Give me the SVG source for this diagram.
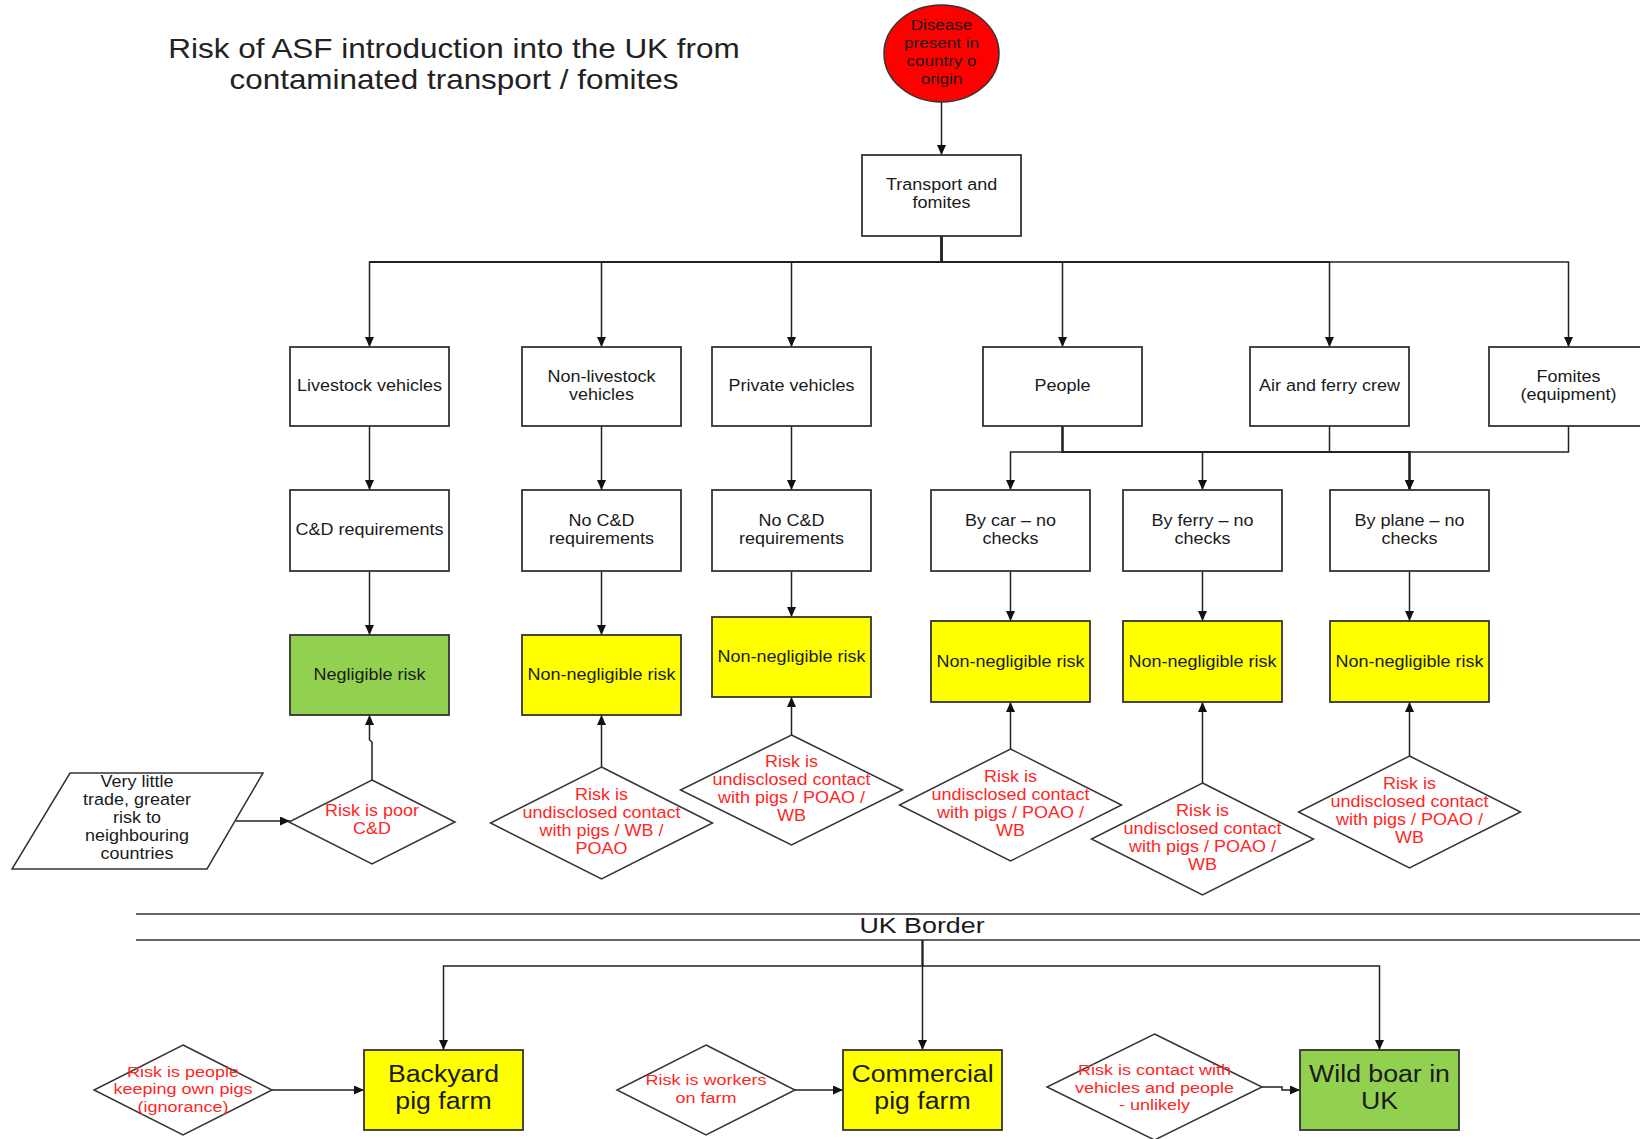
<svg xmlns="http://www.w3.org/2000/svg" width="1640" height="1139" viewBox="0 0 1640 1139">
<defs>
<marker id="ah" markerUnits="userSpaceOnUse" markerWidth="11" markerHeight="10" refX="10" refY="4.5" orient="auto">
<path d="M0,0 L10,4.5 L0,9 z" fill="#111"/>
</marker>
<style>
.box{fill:#fff;stroke:#333;stroke-width:1.8}
.yel{fill:#ffff00;stroke:#333;stroke-width:1.8}
.grn{fill:#92d050;stroke:#333;stroke-width:1.8}
.dia{fill:#fff;stroke:#333;stroke-width:1.5}
.t{font-family:"Liberation Sans",Arial,sans-serif;font-size:16.5px;fill:#1a1a1a;text-anchor:middle}
.r{fill:#ff2626}
.rb{font-size:15px}
.big{font-size:23px}
.title{font-family:"Liberation Sans",Arial,sans-serif;font-size:27px;fill:#222;text-anchor:middle}
.c{fill:none;stroke:#222;stroke-width:1.5;marker-end:url(#ah)}
.thk{stroke-width:2.2}
.ln{fill:none;stroke:#333;stroke-width:1.6}
.bus{fill:none;stroke:#222;stroke-width:2.1}
</style>
</defs>
<rect width="1640" height="1139" fill="#fff"/>

<g id="title">
<text class="title" transform="translate(454,0) scale(1.165,1)"><tspan x="0" y="58">Risk of ASF introduction into the UK from</tspan><tspan x="0" y="89">contaminated transport / fomites</tspan></text>
</g>

<g id="connectors">
<path class="c" d="M941.5,102 V155"/>
<path class="bus" d="M941.5,236 V262 M369.5,262 H1329.5"/>
<path class="c" d="M941.5,236 V262 H369.5 V347"/>
<path class="c" d="M941.5,236 V262 H601.5 V347"/>
<path class="c" d="M941.5,236 V262 H791.5 V347"/>
<path class="c" d="M941.5,236 V262 H1062.5 V347"/>
<path class="c" d="M941.5,236 V262 H1329.5 V347"/>
<path class="c" d="M941.5,236 V262 H1568.5 V347"/>
<path class="c" d="M369.5,426 V490"/>
<path class="c" d="M601.5,426 V490"/>
<path class="c" d="M791.5,426 V490"/>
<path class="c" d="M1062.5,426 V452 H1010.5 V490"/>
<path class="c" d="M1062.5,426 V452 H1202.5 V490"/>
<path class="c" d="M1568.5,426 V452 H1409.5 V490"/>
<path class="c" d="M1329.5,426 V452 H1409.5 V490"/>
<path class="c thk" d="M1062.5,426 V452 H1409.5 V490"/>
<path class="c" d="M369.5,571 V635"/>
<path class="c" d="M601.5,571 V635"/>
<path class="c" d="M791.5,571 V617"/>
<path class="c" d="M1010.5,571 V621"/>
<path class="c" d="M1202.5,571 V621"/>
<path class="c" d="M1409.5,571 V621"/>
<path class="c" d="M372,780 V742 L369.5,740 V715"/>
<path class="c" d="M601.5,767 V715"/>
<path class="c" d="M791.5,735 V697"/>
<path class="c" d="M1010.5,749 V702"/>
<path class="c" d="M1202.5,783 V702"/>
<path class="c" d="M1409.5,756 V702"/>
<path class="c" d="M236,821 H290"/>
<path class="bus" d="M922.5,940 V966"/>
<path class="c" d="M922.5,940 V1050"/>
<path class="c" d="M922.5,966 H443.5 V1050"/>
<path class="c" d="M922.5,966 H1379.5 V1050"/>
<path class="c" d="M272,1090 H364"/>
<path class="c" d="M795,1090 H843"/>
<path class="c" d="M1262,1087 H1282 V1090 H1300"/>
</g>

<g id="disease">
<ellipse cx="941.5" cy="53.5" rx="57.5" ry="48.5" fill="#ff0000" stroke="#333" stroke-width="1.5"/>
<text class="t" style="font-size:15.5px" transform="translate(941.5,0) scale(1.1,1)"><tspan x="0" y="30">Disease</tspan><tspan x="0" y="48">present in</tspan><tspan x="0" y="66">country o</tspan><tspan x="0" y="84">origin</tspan></text>
</g>

<g id="transport">
<rect class="box" x="862" y="155" width="159" height="81"/>
<text class="t" transform="translate(941.5,0) scale(1.09,1)"><tspan x="0" y="190">Transport and</tspan><tspan x="0" y="208">fomites</tspan></text>
</g>

<g id="livestock">
<rect class="box" x="290" y="347" width="159" height="79"/>
<text class="t" transform="translate(369.5,0) scale(1.09,1)"><tspan x="0" y="391">Livestock vehicles</tspan></text>
</g>
<g id="nonlivestock">
<rect class="box" x="522" y="347" width="159" height="79"/>
<text class="t" transform="translate(601.5,0) scale(1.09,1)"><tspan x="0" y="382">Non-livestock</tspan><tspan x="0" y="400">vehicles</tspan></text>
</g>
<g id="private">
<rect class="box" x="712" y="347" width="159" height="79"/>
<text class="t" transform="translate(791.5,0) scale(1.09,1)"><tspan x="0" y="391">Private vehicles</tspan></text>
</g>
<g id="people">
<rect class="box" x="983" y="347" width="159" height="79"/>
<text class="t" transform="translate(1062.5,0) scale(1.09,1)"><tspan x="0" y="391">People</tspan></text>
</g>
<g id="aircrew">
<rect class="box" x="1250" y="347" width="159" height="79"/>
<text class="t" transform="translate(1329.5,0) scale(1.09,1)"><tspan x="0" y="391">Air and ferry crew</tspan></text>
</g>
<g id="fomites">
<rect class="box" x="1489" y="347" width="159" height="79"/>
<text class="t" transform="translate(1568.5,0) scale(1.09,1)"><tspan x="0" y="382">Fomites</tspan><tspan x="0" y="400">(equipment)</tspan></text>
</g>

<g id="cd">
<rect class="box" x="290" y="490" width="159" height="81"/>
<text class="t" transform="translate(369.5,0) scale(1.09,1)"><tspan x="0" y="535">C&amp;D requirements</tspan></text>
</g>
<g id="nocd1">
<rect class="box" x="522" y="490" width="159" height="81"/>
<text class="t" transform="translate(601.5,0) scale(1.09,1)"><tspan x="0" y="526">No C&amp;D</tspan><tspan x="0" y="544">requirements</tspan></text>
</g>
<g id="nocd2">
<rect class="box" x="712" y="490" width="159" height="81"/>
<text class="t" transform="translate(791.5,0) scale(1.09,1)"><tspan x="0" y="526">No C&amp;D</tspan><tspan x="0" y="544">requirements</tspan></text>
</g>
<g id="bycar">
<rect class="box" x="931" y="490" width="159" height="81"/>
<text class="t" transform="translate(1010.5,0) scale(1.09,1)"><tspan x="0" y="526">By car – no</tspan><tspan x="0" y="544">checks</tspan></text>
</g>
<g id="byferry">
<rect class="box" x="1123" y="490" width="159" height="81"/>
<text class="t" transform="translate(1202.5,0) scale(1.09,1)"><tspan x="0" y="526">By ferry – no</tspan><tspan x="0" y="544">checks</tspan></text>
</g>
<g id="byplane">
<rect class="box" x="1330" y="490" width="159" height="81"/>
<text class="t" transform="translate(1409.5,0) scale(1.09,1)"><tspan x="0" y="526">By plane – no</tspan><tspan x="0" y="544">checks</tspan></text>
</g>

<g id="negligible">
<rect class="grn" x="290" y="635" width="159" height="80"/>
<text class="t" transform="translate(369.5,0) scale(1.09,1)"><tspan x="0" y="680">Negligible risk</tspan></text>
</g>
<g id="nn1">
<rect class="yel" x="522" y="635" width="159" height="80"/>
<text class="t" transform="translate(601.5,0) scale(1.09,1)"><tspan x="0" y="680">Non-negligible risk</tspan></text>
</g>
<g id="nn2">
<rect class="yel" x="712" y="617" width="159" height="80"/>
<text class="t" transform="translate(791.5,0) scale(1.09,1)"><tspan x="0" y="662">Non-negligible risk</tspan></text>
</g>
<g id="nn3">
<rect class="yel" x="931" y="621" width="159" height="81"/>
<text class="t" transform="translate(1010.5,0) scale(1.09,1)"><tspan x="0" y="667">Non-negligible risk</tspan></text>
</g>
<g id="nn4">
<rect class="yel" x="1123" y="621" width="159" height="81"/>
<text class="t" transform="translate(1202.5,0) scale(1.09,1)"><tspan x="0" y="667">Non-negligible risk</tspan></text>
</g>
<g id="nn5">
<rect class="yel" x="1330" y="621" width="159" height="81"/>
<text class="t" transform="translate(1409.5,0) scale(1.09,1)"><tspan x="0" y="667">Non-negligible risk</tspan></text>
</g>

<g id="littletrade">
<polygon class="dia" points="70,773 263,773 207,869 12,869"/>
<text class="t" transform="translate(137,0) scale(1.09,1)"><tspan x="0" y="787">Very little</tspan><tspan x="0" y="805">trade, greater</tspan><tspan x="0" y="823">risk to</tspan><tspan x="0" y="841">neighbouring</tspan><tspan x="0" y="859">countries</tspan></text>
</g>
<g id="poorcd">
<polygon class="dia" points="372,780 455,822 372,864 289,822"/>
<text class="t r" transform="translate(372,0) scale(1.09,1)"><tspan x="0" y="816">Risk is poor</tspan><tspan x="0" y="834">C&amp;D</tspan></text>
</g>
<g id="risk-nl">
<polygon class="dia" points="601.5,767 712.5,823 601.5,879 490.5,823"/>
<text class="t r" transform="translate(601.5,0) scale(1.09,1)"><tspan x="0" y="800">Risk is</tspan><tspan x="0" y="818">undisclosed contact</tspan><tspan x="0" y="836">with pigs / WB /</tspan><tspan x="0" y="854">POAO</tspan></text>
</g>
<g id="risk-pv">
<polygon class="dia" points="791.5,735 902.5,790 791.5,845 680.5,790"/>
<text class="t r" transform="translate(791.5,0) scale(1.09,1)"><tspan x="0" y="767">Risk is</tspan><tspan x="0" y="785">undisclosed contact</tspan><tspan x="0" y="803">with pigs / POAO /</tspan><tspan x="0" y="821">WB</tspan></text>
</g>
<g id="risk-car">
<polygon class="dia" points="1010.5,749 1121.5,805 1010.5,861 899.5,805"/>
<text class="t r" transform="translate(1010.5,0) scale(1.09,1)"><tspan x="0" y="782">Risk is</tspan><tspan x="0" y="800">undisclosed contact</tspan><tspan x="0" y="818">with pigs / POAO /</tspan><tspan x="0" y="836">WB</tspan></text>
</g>
<g id="risk-ferry">
<polygon class="dia" points="1202.5,783 1313.5,839 1202.5,895 1091.5,839"/>
<text class="t r" transform="translate(1202.5,0) scale(1.09,1)"><tspan x="0" y="816">Risk is</tspan><tspan x="0" y="834">undisclosed contact</tspan><tspan x="0" y="852">with pigs / POAO /</tspan><tspan x="0" y="870">WB</tspan></text>
</g>
<g id="risk-plane">
<polygon class="dia" points="1409.5,756 1520.5,812 1409.5,868 1298.5,812"/>
<text class="t r" transform="translate(1409.5,0) scale(1.09,1)"><tspan x="0" y="789">Risk is</tspan><tspan x="0" y="807">undisclosed contact</tspan><tspan x="0" y="825">with pigs / POAO /</tspan><tspan x="0" y="843">WB</tspan></text>
</g>

<g id="ukborder">
<path class="ln" d="M136,914 H1640 M136,940 H1640"/>
<text class="t" style="font-size:22px" transform="translate(922,0) scale(1.22,1)"><tspan x="0" y="933">UK Border</tspan></text>
</g>

<g id="backyard">
<rect class="yel" x="364" y="1050" width="159" height="80"/>
<text class="t big" transform="translate(443.5,0) scale(1.16,1)"><tspan x="0" y="1082">Backyard</tspan><tspan x="0" y="1109">pig farm</tspan></text>
</g>
<g id="commercial">
<rect class="yel" x="843" y="1050" width="159" height="80"/>
<text class="t big" transform="translate(922.5,0) scale(1.16,1)"><tspan x="0" y="1082">Commercial</tspan><tspan x="0" y="1109">pig farm</tspan></text>
</g>
<g id="wildboar">
<rect class="grn" x="1300" y="1050" width="159" height="80"/>
<text class="t big" transform="translate(1379.5,0) scale(1.16,1)"><tspan x="0" y="1082">Wild boar in</tspan><tspan x="0" y="1109">UK</tspan></text>
</g>
<g id="risk-people">
<polygon class="dia" points="183,1045 272,1090 183,1135 94,1090"/>
<text class="t r rb" transform="translate(183,0) scale(1.2,1)"><tspan x="0" y="1077">Risk is people</tspan><tspan x="0" y="1094.5">keeping own pigs</tspan><tspan x="0" y="1112">(ignorance)</tspan></text>
</g>
<g id="risk-workers">
<polygon class="dia" points="706,1045 795,1090 706,1135 617,1090"/>
<text class="t r rb" transform="translate(706,0) scale(1.2,1)"><tspan x="0" y="1085">Risk is workers</tspan><tspan x="0" y="1103">on farm</tspan></text>
</g>
<g id="risk-contact">
<polygon class="dia" points="1154.5,1034 1262,1087 1154.5,1140 1047,1087"/>
<text class="t r rb" transform="translate(1154.5,0) scale(1.2,1)"><tspan x="0" y="1075">Risk is contact with</tspan><tspan x="0" y="1093">vehicles and people</tspan><tspan x="0" y="1110">- unlikely</tspan></text>
</g>
</svg>
